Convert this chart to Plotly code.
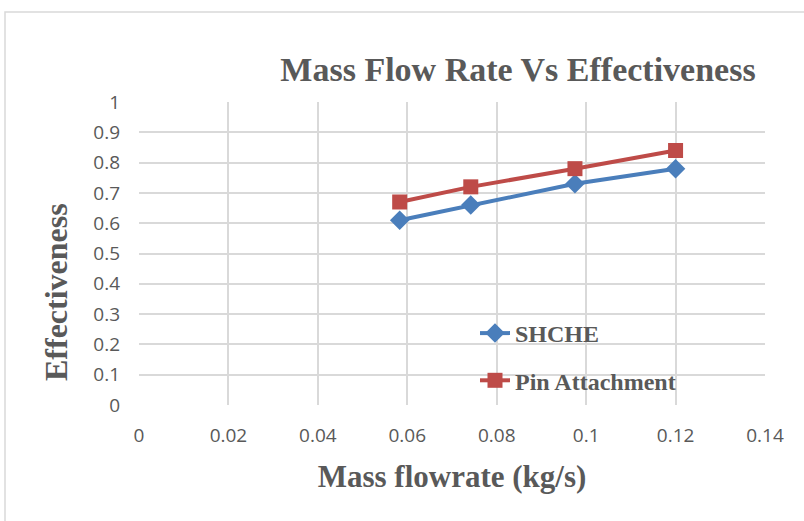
import plotly.graph_objects as go

x_flow = [0.0583, 0.0742, 0.0975, 0.12]
shche = [0.61, 0.66, 0.73, 0.78]
pin = [0.67, 0.72, 0.78, 0.84]
x_ticks = [0, 0.02, 0.04, 0.06, 0.08, 0.1, 0.12, 0.14]
x_tick_text = ["0", "0.02", "0.04", "0.06", "0.08", "0.1", "0.12", "0.14"]
y_ticks = [0, 0.1, 0.2, 0.3, 0.4, 0.5, 0.6, 0.7, 0.8, 0.9, 1]
y_tick_text = ["0", "0.1", "0.2", "0.3", "0.4", "0.5", "0.6", "0.7", "0.8", "0.9", "1"]
title_text = "Mass Flow Rate Vs Effectiveness"
x_title = "Mass flowrate (kg/s)"
y_title = "Effectiveness"

W, H = 804, 521
L, R, T, B = 139, 39, 102, 116
PW, PH = W - L - R, H - T - B
GREY = "#595959"
SERIF = "Liberation Serif"

fig = go.Figure()
fig.add_trace(go.Scatter(x=x_flow, y=shche, name="SHCHE", mode="lines+markers",
                         legendgroup="a",
                         line=dict(color="#4a7ebb", width=4),
                         marker=dict(symbol="diamond", size=15, color="#4a7ebb")))
fig.add_trace(go.Scatter(x=x_flow, y=pin, name="Pin Attachment", mode="lines+markers",
                         legendgroup="b",
                         line=dict(color="#be4b48", width=4),
                         marker=dict(symbol="square", size=15, color="#be4b48")))

fig.update_layout(
    width=W, height=H,
    margin=dict(l=L, r=R, t=T, b=B),
    paper_bgcolor="white", plot_bgcolor="white",
    showlegend=True,
    legend=dict(x=(475 - L) / PW, y=(H - B - 311) / PH, xanchor="left", yanchor="top",
                bgcolor="rgba(0,0,0,0)",
                font=dict(family=SERIF, size=24, color=GREY, weight="bold"),
                tracegroupgap=13, traceorder="grouped"),
    title=dict(text=title_text,
               x=518 / W, xanchor="center", y=0.868, yanchor="middle",
               font=dict(family=SERIF, size=34, color=GREY, weight="bold")),
    xaxis=dict(range=[0, 0.14], tickvals=x_ticks, ticktext=x_tick_text,
               showgrid=True, gridcolor="#d9d9d9", gridwidth=2,
               zeroline=False, showline=False, ticks="",
               ticklabelstandoff=17,
               tickfont=dict(family="Open Sans", size=19, color=GREY),
               title=dict(text=x_title, standoff=18,
                          font=dict(family=SERIF, size=31, color=GREY, weight="bold"))),
    yaxis=dict(range=[0, 1], tickvals=y_ticks, ticktext=y_tick_text,
               showgrid=True, gridcolor="#d9d9d9", gridwidth=2,
               zeroline=False, showline=False, ticks="",
               ticklabelstandoff=18,
               tickfont=dict(family="Open Sans", size=19, color=GREY)),
)

fig.add_annotation(text=y_title, textangle=-90, showarrow=False,
                   xref="paper", yref="paper",
                   x=(56 - L) / PW, y=(H - B - 292) / PH,
                   xanchor="center", yanchor="middle",
                   font=dict(family=SERIF, size=32, color=GREY, weight="bold"))

# chart frame
fig.add_shape(type="rect", xref="paper", yref="paper",
              x0=(5 - L) / PW, x1=(820 - L) / PW,
              y0=(H - B - 540) / PH, y1=(H - B - 12) / PH,
              line=dict(color="#d9d9d9", width=1.5), layer="below")

fig.write_html("out.html")
